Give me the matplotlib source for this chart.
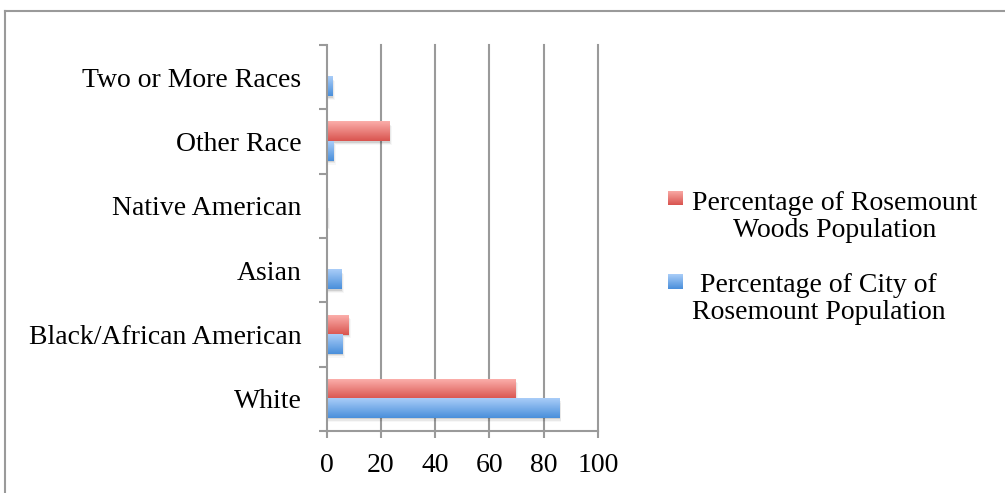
import numpy as np
import matplotlib
matplotlib.use("Agg")
import matplotlib.pyplot as plt
from matplotlib.patches import Rectangle
from matplotlib.lines import Line2D
from matplotlib.colors import LinearSegmentedColormap

categories = ["White", "Black/African American", "Asian", "Native American",
              "Other Race", "Two or More Races"]
woods_pct = [69.6, 7.8, 0.0, 0.0, 23.2, 0.0]
city_pct = [85.5, 5.7, 5.3, 0.3, 2.3, 2.0]
series_names = ["Percentage of Rosemount\nWoods Population",
                "Percentage of City of\nRosemount Population"]
x_ticks = [0, 20, 40, 60, 80, 100]

plt.rcParams["font.family"] = ["Liberation Serif", "DejaVu Serif"]

W, H = 1005, 493
FS = 20
fig = plt.figure(figsize=(W / 100, H / 100), dpi=100)

def px(x0, y0, x1, y1):
    return [x0 / W, 1 - y1 / H, (x1 - x0) / W, (y1 - y0) / H]

ax = fig.add_axes(px(326.5, 45, 598, 431))
grid_col = "#9a9a9a"
lw = 1.5

ax.set_xlim(0, 100)
ax.set_ylim(-0.5, len(categories) - 0.5)
for s in ["top", "right"]:
    ax.spines[s].set_visible(False)
for s in ["left", "bottom"]:
    ax.spines[s].set_color(grid_col)
    ax.spines[s].set_linewidth(lw)
ax.set_xticks(x_ticks)
ax.set_xticklabels([str(t) for t in x_ticks], fontsize=FS)
ax.tick_params(axis="x", length=5, width=lw, color=grid_col, pad=11)
ax.set_yticks(np.arange(len(categories) + 1) - 0.5, minor=True)
ax.set_yticks(np.arange(len(categories)))
ax.set_yticklabels(categories, fontsize=FS)
ax.tick_params(axis="y", which="major", length=0, pad=18)
ax.tick_params(axis="y", which="minor", length=6, width=lw, color=grid_col)
for t in x_ticks[1:]:
    ax.axvline(t, color=grid_col, lw=lw, zorder=0, clip_on=False)

red_cmap = LinearSegmentedColormap.from_list("r", ["#d9544f", "#fbaeaa"])
blue_cmap = LinearSegmentedColormap.from_list("b", ["#4a8fdb", "#a9cdf8"])
grad = np.linspace(0, 1, 64).reshape(-1, 1)
bh = 0.3
y = np.arange(len(categories))

def gradient_bars(vals, offs, cmap):
    for yi, v in zip(y, vals):
        if v <= 0:
            continue
        y0 = yi + offs - bh / 2
        # soft drop shadow
        for k, a in enumerate([0.10, 0.06, 0.03]):
            d = 0.35 * (k + 1)
            ax.add_patch(Rectangle((0, y0 - 0.02 * (k + 1)), v + d, bh,
                                   color="black", alpha=a, lw=0, zorder=1))
        ax.imshow(grad, cmap=cmap, aspect="auto", origin="lower",
                  extent=(0, v, y0, y0 + bh), zorder=2, interpolation="bilinear")

ax.barh(y + bh / 2, woods_pct, height=bh, color="none", zorder=2)
ax.barh(y - bh / 2, city_pct, height=bh, color="none", zorder=2)
gradient_bars(woods_pct, bh / 2, red_cmap)
gradient_bars(city_pct, -bh / 2, blue_cmap)
ax.set_xlim(0, 100)
ax.set_ylim(-0.5, len(categories) - 0.5)

# legend
leg_items = [(198, 217, red_cmap, 835), (281.5, 299, blue_cmap, 818.5)]
for (yp, yt, cmap, tx), name in zip(leg_items, series_names):
    lax = fig.add_axes(px(668, yp - 7.5, 683, yp + 7.5))
    lax.imshow(grad, cmap=cmap, aspect="auto", origin="lower", extent=(0, 1, 0, 1))
    lax.axis("off")
    fig.text(tx / W, 1 - yt / H, name, ha="center", va="center",
             multialignment="center", fontsize=FS, linespacing=1.15)

# chart frame
fig.add_artist(Line2D([4.5 / W, 4.5 / W], [0, 1 - 11 / H], color=grid_col, lw=lw))
fig.add_artist(Line2D([4.5 / W, 1], [1 - 11 / H, 1 - 11 / H], color=grid_col, lw=lw))

fig.savefig("out.png", dpi=100)
